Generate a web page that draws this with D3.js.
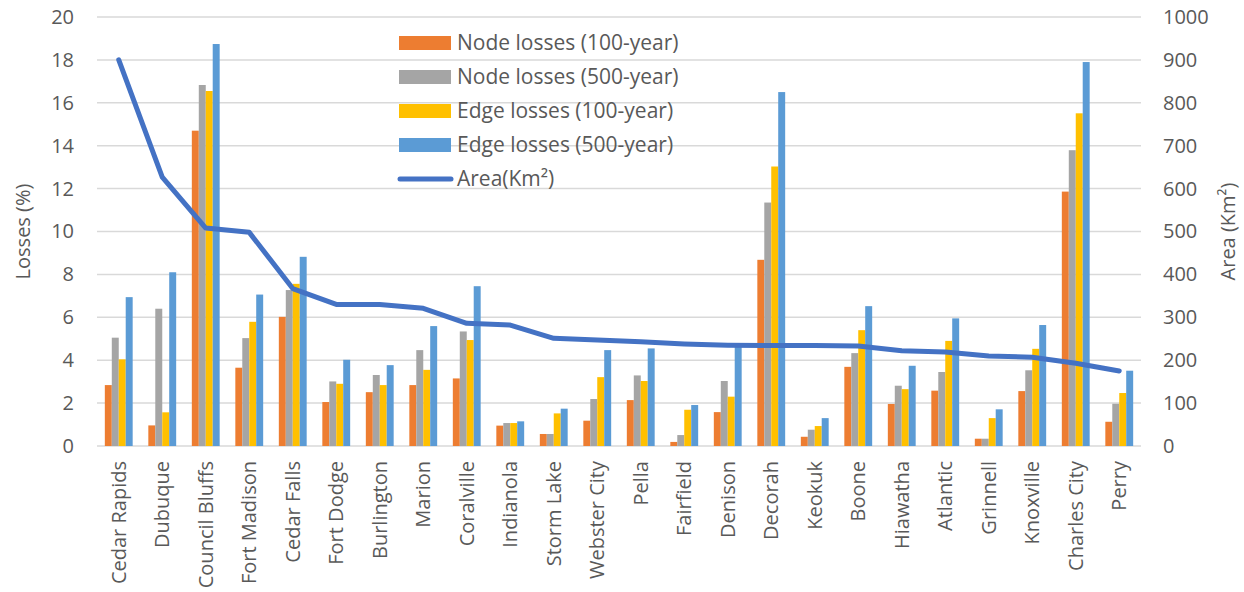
<!DOCTYPE html>
<html>
<head>
<meta charset="utf-8">
<script src="https://cdn.jsdelivr.net/npm/d3@7"></script>
<style>
  body { margin: 0; background: #fff; }
  svg { font-family: "Open Sans", sans-serif; }
</style>
</head>
<body>
<div id="chart"></div>
<script>
// Données
const cities = ["Cedar Rapids", "Dubuque", "Council Bluffs", "Fort Madison", "Cedar Falls", "Fort Dodge",
  "Burlington", "Marion", "Coralville", "Indianola", "Storm Lake", "Webster City", "Pella", "Fairfield",
  "Denison", "Decorah", "Keokuk", "Boone", "Hiawatha", "Atlantic", "Grinnell", "Knoxville", "Charles City", "Perry"];

const node100 = [2.84, 0.96, 14.7, 3.65, 6.02, 2.05, 2.51, 2.84, 3.15, 0.95, 0.56, 1.18, 2.14, 0.19, 1.58, 8.68, 0.43, 3.69, 1.96, 2.58, 0.34, 2.56, 11.86, 1.13];
const node500 = [5.05, 6.4, 16.83, 5.03, 7.27, 3.01, 3.31, 4.47, 5.34, 1.07, 0.56, 2.19, 3.29, 0.51, 3.03, 11.35, 0.76, 4.33, 2.81, 3.45, 0.34, 3.53, 13.79, 1.97];
const edge100 = [4.04, 1.57, 16.55, 5.79, 7.56, 2.9, 2.84, 3.55, 4.94, 1.07, 1.52, 3.21, 3.03, 1.69, 2.3, 13.03, 0.93, 5.4, 2.65, 4.9, 1.3, 4.53, 15.51, 2.47];
const edge500 = [6.94, 8.1, 18.74, 7.06, 8.82, 4.02, 3.77, 5.59, 7.45, 1.15, 1.74, 4.47, 4.55, 1.91, 4.75, 16.5, 1.3, 6.52, 3.74, 5.95, 1.71, 5.64, 17.9, 3.51];
const area = [900, 627, 508, 498, 367, 330, 330, 321, 286, 282, 251, 247, 243, 238, 235, 234, 234, 233, 222, 219, 210, 207, 193, 175];

const leftTicks = [0, 2, 4, 6, 8, 10, 12, 14, 16, 18, 20];
const rightTicks = [0, 100, 200, 300, 400, 500, 600, 700, 800, 900, 1000];

const seriesNames = ["Node losses (100-year)", "Node losses (500-year)", "Edge losses (100-year)", "Edge losses (500-year)"];
const seriesColors = ["#ED7D31", "#A5A5A5", "#FFC000", "#5B9BD5"];
const series = [node100, node500, edge100, edge500];

const width = 1244;
const height = 592;
const margin = { top: 17, right: 103, bottom: 146, left: 97 };
const fontSize = 20;

const x = d3.scaleBand()
    .domain(cities)
    .range([margin.left, width - margin.right])
    .paddingInner(0.36)
    .paddingOuter(0.18);

const xs = d3.scaleBand()
    .domain(d3.range(4))
    .range([0, x.bandwidth()]);

const y = d3.scaleLinear().domain([0, 20]).range([height - margin.bottom, margin.top]);
const y2 = d3.scaleLinear().domain([0, 1000]).range([height - margin.bottom, margin.top]);

const svg = d3.select("#chart").append("svg")
    .attr("width", width)
    .attr("height", height);

// Grille
svg.append("g")
    .selectAll("line")
    .data(leftTicks)
    .join("line")
    .attr("x1", margin.left)
    .attr("x2", width - margin.right)
    .attr("y1", d => y(d))
    .attr("y2", d => y(d))
    .attr("stroke", "#D9D9D9")
    .attr("stroke-width", 1.5);

// Axe gauche
const axL = svg.append("g")
    .attr("transform", `translate(${margin.left - 23},0)`)
    .call(d3.axisLeft(y).tickValues(leftTicks).tickSize(0).tickPadding(0));
axL.select(".domain").remove();
axL.selectAll("text").attr("font-size", fontSize).attr("fill", "#595959").attr("font-family", "Open Sans");

// Axe droit
const axR = svg.append("g")
    .attr("transform", `translate(${width - margin.right + 22},0)`)
    .call(d3.axisRight(y2).tickValues(rightTicks).tickFormat(d3.format("d")).tickSize(0).tickPadding(0));
axR.select(".domain").remove();
axR.selectAll("text").attr("font-size", fontSize).attr("fill", "#595959").attr("font-family", "Open Sans");

// Axe du bas
const axB = svg.append("g")
    .attr("transform", `translate(0,${height - margin.bottom})`)
    .call(d3.axisBottom(x).tickSize(0).tickPadding(0));
axB.select(".domain").remove();
axB.selectAll("text")
    .attr("transform", "rotate(-90)")
    .attr("text-anchor", "end")
    .attr("x", -15)
    .attr("y", 0)
    .attr("dy", "0.35em")
    .attr("font-size", fontSize)
    .attr("fill", "#595959")
    .attr("font-family", "Open Sans");

// Titres des axes
svg.append("text")
    .attr("transform", `translate(30,${y(10)}) rotate(-90)`)
    .attr("text-anchor", "middle")
    .attr("font-size", fontSize)
    .attr("fill", "#595959")
    .text("Losses (%)");

svg.append("text")
    .attr("transform", `translate(1235,${y(10)}) rotate(-90)`)
    .attr("text-anchor", "middle")
    .attr("font-size", fontSize)
    .attr("fill", "#595959")
    .text("Area (Km²)");

// Barres
series.forEach((s, i) => {
    svg.append("g")
        .selectAll("rect")
        .data(s)
        .join("rect")
        .attr("x", (d, j) => x(cities[j]) + xs(i))
        .attr("y", d => y(d))
        .attr("width", xs.bandwidth())
        .attr("height", d => y(0) - y(d))
        .attr("fill", seriesColors[i]);
});

// Ligne de surface
const line = d3.line()
    .x((d, j) => x(cities[j]) + x.bandwidth() / 2)
    .y(d => y2(d));

svg.append("path")
    .datum(area)
    .attr("d", line)
    .attr("fill", "none")
    .attr("stroke", "#4472C4")
    .attr("stroke-width", 5)
    .attr("stroke-linecap", "round")
    .attr("stroke-linejoin", "round");

// Légende
const legend = svg.append("g").attr("transform", "translate(399,43)");
seriesNames.forEach((name, i) => {
    legend.append("rect")
        .attr("x", 0)
        .attr("y", i * 34 - 7)
        .attr("width", 52)
        .attr("height", 14)
        .attr("fill", seriesColors[i]);
    legend.append("text")
        .attr("x", 58)
        .attr("y", i * 34)
        .attr("dy", "0.35em")
        .attr("font-size", 21)
        .attr("fill", "#595959")
        .text(name);
});
legend.append("line")
    .attr("x1", 1).attr("x2", 52)
    .attr("y1", 136).attr("y2", 136)
    .attr("stroke", "#4472C4")
    .attr("stroke-width", 5)
    .attr("stroke-linecap", "round");
legend.append("text")
    .attr("x", 58)
    .attr("y", 136)
    .attr("dy", "0.35em")
    .attr("font-size", 21)
    .attr("fill", "#595959")
    .text("Area(Km²)");
</script>
</body>
</html>
